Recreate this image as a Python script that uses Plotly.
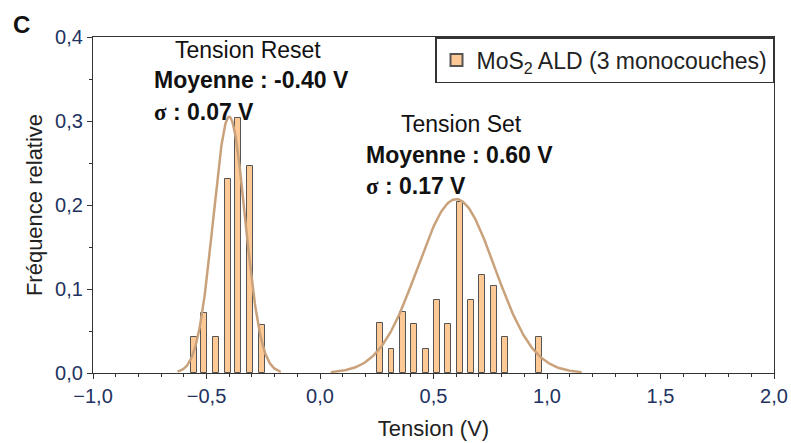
import numpy as np
import plotly.graph_objects as go

# ---- data ----
reset_x = [-0.555, -0.51, -0.46, -0.405, -0.36, -0.31, -0.255]
reset_freq = [0.043, 0.071, 0.043, 0.231, 0.303, 0.246, 0.057]

set_x = [0.265, 0.315, 0.365, 0.415, 0.465, 0.515, 0.565, 0.615,
         0.665, 0.715, 0.765, 0.815, 0.965]
set_freq = [0.059, 0.029, 0.073, 0.058, 0.029, 0.087, 0.058, 0.203,
            0.087, 0.117, 0.103, 0.043, 0.043]

# Gaussian fits (parameters shown on the chart)
reset_mean, reset_sigma, reset_peak = -0.40, 0.07, 0.305
set_mean, set_sigma, set_peak = 0.60, 0.17, 0.207
fit_span = 3.25  # curve drawn over mean +/- fit_span*sigma

x_ticks = [-1.0, -0.5, 0.0, 0.5, 1.0, 1.5, 2.0]
y_ticks = [0.0, 0.1, 0.2, 0.3, 0.4]

BAR_FILL = "#FFC995"
BAR_LINE = "#555555"
FIT_COLOR = "#C9A27C"
TICK_COLOR = "#223260"
FONT = "Liberation Sans, Arial, sans-serif"

fig = go.Figure()

fig.add_trace(go.Bar(
    x=reset_x + set_x, y=reset_freq + set_freq, width=0.026,
    marker=dict(color=BAR_FILL, line=dict(color=BAR_LINE, width=1)),
    name="MoS<sub>2</sub> ALD (3 monocouches)", showlegend=True,
))

def gauss_curve(mean, sigma, peak):
    xs = np.linspace(mean - fit_span * sigma, mean + fit_span * sigma, 200)
    return xs, peak * np.exp(-0.5 * ((xs - mean) / sigma) ** 2)

for m, s, p in [(reset_mean, reset_sigma, reset_peak), (set_mean, set_sigma, set_peak)]:
    xs, ys = gauss_curve(m, s, p)
    fig.add_trace(go.Scatter(x=xs, y=ys, mode="lines",
                             line=dict(color=FIT_COLOR, width=2.5),
                             showlegend=False, hoverinfo="skip"))

axis_common = dict(
    showline=True, linecolor="#333333", linewidth=1.3, mirror=True,
    ticks="outside", ticklen=5, tickwidth=1.2, tickcolor="#333333",
    showgrid=False, zeroline=False, automargin=False,
    tickfont=dict(family=FONT, size=20, color=TICK_COLOR),
    tickformat=".1f",
)

fig.update_xaxes(range=[-1.0, 2.0], tickvals=x_ticks,
                 minor=dict(dtick=0.1, ticks="outside", ticklen=3, tickcolor="#333333"),
                 title=dict(text="Tension (V)", font=dict(family=FONT, size=22, color="#222222"), standoff=14),
                 **axis_common)
fig.update_yaxes(range=[0.0, 0.4], tickvals=y_ticks,
                 minor=dict(dtick=0.05, ticks="outside", ticklen=3, tickcolor="#333333"),
                 title=dict(text="Fréquence relative", font=dict(family=FONT, size=22, color="#222222"), standoff=6),
                 **axis_common)

sigma_span = '<span style="font-family:Liberation Serif, Times New Roman, serif">σ</span>'
ann_font = dict(family=FONT, size=23, color="#111111")
annotations = [
    dict(x=-0.319, y=0.385, text="Tension Reset", xanchor="center", yanchor="middle"),
    dict(x=-0.738, y=0.349, text="<b>Moyenne : -0.40 V</b>", xanchor="left", yanchor="middle"),
    dict(x=-0.738, y=0.311, text=f"<b>{sigma_span} : 0.07 V</b>", xanchor="left", yanchor="middle"),
    dict(x=0.623, y=0.296, text="Tension Set", xanchor="center", yanchor="middle"),
    dict(x=0.196, y=0.259, text="<b>Moyenne : 0.60 V</b>", xanchor="left", yanchor="middle"),
    dict(x=0.196, y=0.223, text=f"<b>{sigma_span} : 0.17 V</b>", xanchor="left", yanchor="middle"),
]
for a in annotations:
    a.update(xref="x", yref="y", showarrow=False, font=ann_font)
annotations.append(dict(xref="paper", yref="paper", x=-0.12, y=1.038, text="<b>C</b>",
                        showarrow=False, xanchor="left", yanchor="middle",
                        font=dict(family=FONT, size=24, color="#111111")))

fig.update_layout(
    width=791, height=443,
    margin=dict(l=93, r=17, t=37, b=70, autoexpand=False),
    paper_bgcolor="white", plot_bgcolor="white",
    separators=", ",
    font=dict(family=FONT),
    bargap=0,
    annotations=annotations,
    legend=dict(x=1, y=1, xanchor="right", yanchor="top",
                bordercolor="#333333", borderwidth=1.5, bgcolor="white",
                font=dict(family=FONT, size=23, color="#222222"),
                itemsizing="constant", tracegroupgap=0),
)

fig.write_html(
    "out.html",
    config={"displayModeBar": False},
    post_script="document.body.style.margin='0';document.body.style.overflow='hidden';",
)
